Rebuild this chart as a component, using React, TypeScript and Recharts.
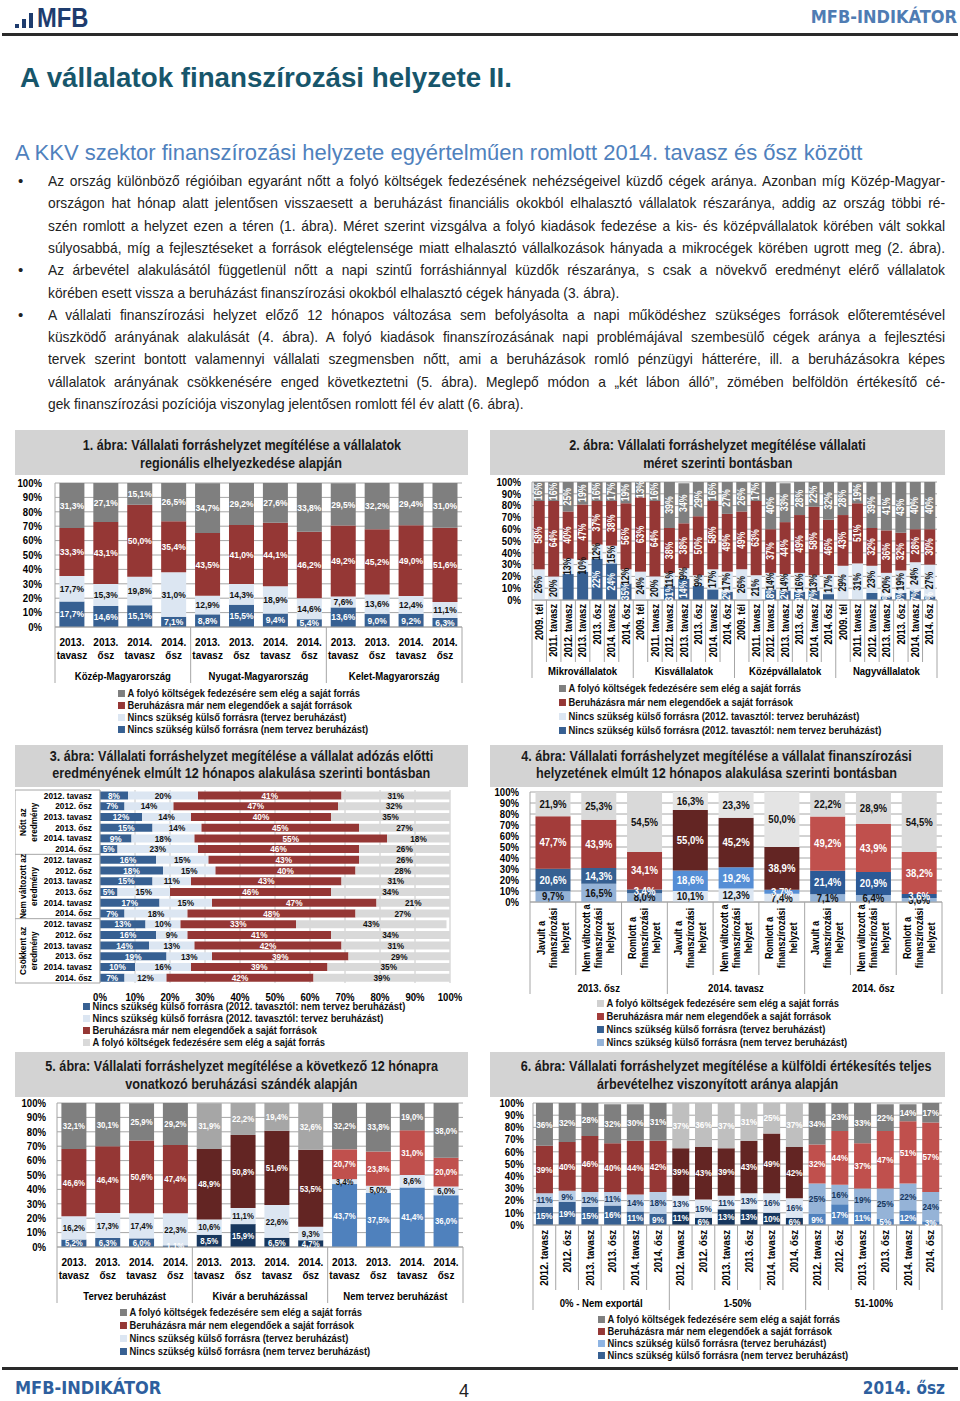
import React from "react";
import { BarChart, Bar, XAxis, YAxis, CartesianGrid, Cell, LabelList } from "recharts";

const SANS = "'Liberation Sans', Arial, sans-serif";
const HEAD = "'DejaVu Sans Condensed', 'DejaVu Sans', sans-serif";
const SX = 0.87;
const W = "#ffffff";
const K = "#111111";
const TICKS = [0, 10, 20, 30, 40, 50, 60, 70, 80, 90, 100];

// legend texts
const L_FOLYO = "A folyó költségek fedezésére sem elég a saját forrás";
const L_BERUH = "Beruházásra már nem elegendőek a saját források";
const L_TERV = "Nincs szükség külső forrásra (tervez beruházást)";
const L_NEMTERV = "Nincs szükség külső forrásra (nem tervez beruházást)";
const L_TERV12 = "Nincs szükség külső forrásra (2012. tavasztól: tervez beruházást)";
const L_NEMTERV12 = "Nincs szükség külső forrásra (2012. tavasztól: nem tervez beruházást)";

// 1. ábra
const FIG1_PERIODS = ["2013. tavasz", "2013. ősz", "2014. tavasz", "2014. ősz"];
const FIG1_REGIONS = ["Közép-Magyarország", "Nyugat-Magyarország", "Kelet-Magyarország"];
const FIG1_NEM = [17.7, 14.6, 15.1, 7.1, 8.8, 15.5, 9.4, 5.4, 13.6, 9.0, 9.2, 6.3];
const FIG1_TERV = [17.7, 15.3, 19.8, 31.0, 12.9, 14.3, 18.9, 14.6, 7.6, 13.6, 12.4, 11.1];
const FIG1_BERUH = [33.3, 43.1, 50.0, 35.4, 43.5, 41.0, 44.1, 46.2, 49.2, 45.2, 49.0, 51.6];
const FIG1_FOLYO = [31.3, 27.1, 15.1, 26.5, 34.7, 29.2, 27.6, 33.8, 29.5, 32.2, 29.4, 31.0];

// 2. ábra
const FIG2_PERIODS = ["2009. tél", "2011. tavasz", "2012. tavasz", "2013. tavasz", "2013. ősz", "2014. tavasz", "2014. ősz"];
const FIG2_SIZES = ["Mikrovállalatok", "Kisvállalatok", "Középvállalatok", "Nagyvállalatok"];
const FIG2_NEM = [0, 0, 22, 24, 35, 31, 14, 0, 0, 12, 18, 12, 9, 7, 0, 0, 9, 8, 7, 8, 5, 0, 0, 6, 3, 6, 8, 3];
const FIG2_TERV = [26, 20, 13, 10, 12, 15, 12, 24, 20, 11, 9, 9, 17, 17, 26, 21, 14, 14, 16, 13, 17, 29, 31, 23, 20, 19, 24, 27];
const FIG2_BERUH = [58, 64, 40, 47, 37, 38, 56, 63, 64, 38, 38, 50, 58, 49, 49, 63, 37, 44, 49, 58, 46, 43, 51, 32, 36, 32, 28, 30];
const FIG2_FOLYO = [16, 16, 25, 19, 16, 17, 19, 13, 16, 39, 34, 29, 16, 27, 26, 17, 40, 33, 28, 22, 32, 28, 19, 39, 41, 43, 40, 40];

// 3. ábra
const FIG3_PERIODS = ["2012. tavasz", "2012. ősz", "2013. tavasz", "2013. ősz", "2014. tavasz", "2014. ősz"];
const FIG3_GROUPS = ["Nőtt az eredmény", "Nem változott az eredmény", "Csökkent az eredmény"];
const FIG3_NEM = [8, 7, 12, 15, 9, 5, 16, 18, 15, 5, 17, 7, 13, 16, 14, 19, 10, 7];
const FIG3_TERV = [20, 14, 14, 14, 18, 23, 15, 15, 11, 15, 15, 18, 10, 9, 13, 13, 16, 12];
const FIG3_BERUH = [41, 47, 40, 45, 55, 46, 43, 40, 43, 46, 47, 48, 33, 41, 42, 39, 39, 42];
const FIG3_FOLYO = [31, 32, 35, 27, 18, 26, 26, 28, 31, 34, 21, 27, 43, 34, 31, 29, 35, 39];

// 4. ábra
const FIG4_STATES = [
  ["Javult a", "finanszírozási", "helyzet"],
  ["Nem változott a", "finanszírozási", "helyzet"],
  ["Romlott a", "finanszírozási", "helyzet"],
];
const FIG4_PERIODS = ["2013. ősz", "2014. tavasz", "2014. ősz"];
const FIG4_NEM = [9.7, 16.5, 8.0, 10.1, 12.3, 7.4, 7.1, 6.4, 3.6];
const FIG4_TERV = [20.6, 14.3, 3.4, 18.6, 19.2, 3.7, 21.4, 20.9, 3.6];
const FIG4_BERUH = [47.7, 43.9, 34.1, 55.0, 45.2, 38.9, 49.2, 43.9, 38.2];
const FIG4_FOLYO = [21.9, 25.3, 54.5, 16.3, 23.3, 50.0, 22.2, 28.9, 54.5];

// 5. ábra
const FIG5_PERIODS = ["2013. tavasz", "2013. ősz", "2014. tavasz", "2014. ősz"];
const FIG5_GROUPS = ["Tervez beruházást", "Kivár a beruházással", "Nem tervez beruházást"];
const FIG5_NEM = [5.2, 6.3, 6.0, 1.1, 8.5, 15.9, 6.5, 4.7, 43.7, 37.5, 41.4, 36.0];
const FIG5_TERV = [16.2, 17.3, 17.4, 22.3, 10.6, 11.1, 22.6, 9.3, 3.4, 5.0, 8.6, 6.0];
const FIG5_BERUH = [46.6, 46.4, 50.6, 47.4, 48.9, 50.8, 51.6, 53.5, 20.7, 23.8, 31.0, 20.0];
const FIG5_FOLYO = [32.1, 30.1, 25.9, 29.2, 31.9, 22.2, 19.4, 32.6, 32.2, 33.8, 19.0, 38.0];

// 6. ábra
const FIG6_PERIODS = ["2012. tavasz", "2012. ősz", "2013. tavasz", "2013. ősz", "2014. tavasz", "2014. ősz"];
const FIG6_GROUPS = ["0% - Nem exportál", "1-50%", "51-100%"];
const FIG6_NEM = [15, 19, 15, 16, 11, 9, 11, 6, 13, 13, 10, 6, 9, 17, 11, 5, 12, 3];
const FIG6_TERV = [11, 9, 12, 11, 14, 18, 13, 15, 11, 13, 16, 16, 25, 16, 19, 25, 22, 24];
const FIG6_BERUH = [39, 40, 46, 40, 44, 42, 39, 43, 39, 43, 49, 42, 32, 44, 37, 47, 51, 57];
const FIG6_FOLYO = [36, 32, 28, 32, 30, 31, 37, 36, 37, 31, 25, 37, 34, 23, 33, 22, 14, 17];

const TEXT_LINES: { t: string; bullet?: boolean; end?: boolean }[] = [
  { t: "Az ország különböző régióiban egyaránt nőtt a folyó költségek fedezésének nehézségeivel küzdő cégek aránya. Azonban míg Közép-Magyar-", bullet: true },
  { t: "országon hat hónap alatt jelentősen visszaesett a beruházást financiális okokból elhalasztó vállalatok részaránya, addig az ország többi ré-" },
  { t: "szén romlott a helyzet ezen a téren (1. ábra). Méret szerint vizsgálva a folyó kiadások fedezése a kis- és középvállalatok körében vált sokkal" },
  { t: "súlyosabbá, míg a fejlesztéseket a források elégtelensége miatt elhalasztó vállalkozások hányada a mikrocégek körében ugrott meg (2. ábra)." },
  { t: "Az árbevétel alakulásától függetlenül nőtt a napi szintű forráshiánnyal küzdők részaránya, s csak a növekvő eredményt elérő vállalatok", bullet: true },
  { t: "körében esett vissza a beruházást finanszírozási okokból elhalasztó cégek hányada (3. ábra).", end: true },
  { t: "A vállalati finanszírozási helyzet előző 12 hónapos változása sem befolyásolta a napi működéshez szükséges források előteremtésével", bullet: true },
  { t: "küszködő arányának alakulását (4. ábra). A folyó kiadások finanszírozásának napi problémájával szembesülő cégek aránya a fejlesztési" },
  { t: "tervek szerint bontott valamennyi vállalati szegmensben nőtt, ami a beruházások romló pénzügyi hátterére, ill. a beruházásokra képes" },
  { t: "vállalatok arányának csökkenésére enged következtetni (5. ábra). Meglepő módon a „két lábon álló”, zömében belföldön értékesítő cé-" },
  { t: "gek finanszírozási pozíciója viszonylag jelentősen romlott fél év alatt (6. ábra).", end: true },
];

type Series = { values: number[]; fills: string[]; inks: string[] };

const fmt = (v: number, dec: number) => v.toFixed(dec).replace(".", ",") + "%";

// condensed bold svg text (squeezed horizontally around its anchor)
function T(props: { x: number; y: number; size: number; anchor?: string; base?: string; fill?: string; rot?: boolean; children: React.ReactNode }) {
  const { x, y, size, anchor = "middle", base, fill = "#000", rot } = props;
  const tr = (rot ? `rotate(-90 ${x} ${y}) ` : "") + `matrix(${SX} 0 0 1 ${x * (1 - SX)} 0)`;
  return (
    <text x={x} y={y} transform={tr} fontSize={size} fontWeight="bold" fontFamily={SANS} textAnchor={anchor as any} dominantBaseline={base as any} fill={fill}>
      {props.children}
    </text>
  );
}

function labelFn(s: Series, size: number, dec: number, rot: boolean, fs: number) {
  return (p: any) => {
    const i = Number(p.index);
    const v = s.values[i];
    if (!v) return null;
    const cx = Number(p.x) + Number(p.width) / 2;
    const cy = Number(p.y) + Number(p.height) / 2;
    const g = Math.floor(i / size);
    return (
      <T x={cx} y={cy} size={fs} fill={s.inks[g]} base="central" rot={rot}>
        {fmt(v, dec)}
      </T>
    );
  };
}

const yTick = (p: any) => (
  <T x={Number(p.x)} y={Number(p.y)} size={11} anchor="end" base="central">
    {p.payload.value + "%"}
  </T>
);

type TickCfg = {
  lines: string[][];
  groups: string[];
  size: number;
  step: number;
  rot: boolean;
  font: number;
  offs: number[];
  rotY: number;
  anchor: "end" | "middle";
  groupDy: number;
  catSep: number;
  grpSep: number;
};

function makeTick(c: TickCfg) {
  return (p: any) => {
    const x = Number(p.x);
    const y = Number(p.y);
    const i = Number(p.index ?? p.payload?.index ?? 0);
    const n = c.lines.length;
    const k = i % c.size;
    const left = x - c.step / 2;
    const parts: React.ReactNode[] = [];
    (c.lines[i] || []).forEach((t, j) => {
      if (!c.rot) {
        parts.push(
          <T key={"t" + j} x={x} y={y + c.offs[j]} size={c.font}>
            {t}
          </T>
        );
      } else {
        parts.push(
          <T key={"t" + j} x={x + c.offs[j]} y={y + c.rotY} size={c.font} anchor={c.anchor} base="central" rot>
            {t}
          </T>
        );
      }
    });
    if (k === 0) {
      parts.push(<line key="gs" x1={left} x2={left} y1={y} y2={y + c.grpSep} stroke="#a6a6a6" />);
      parts.push(
        <T key="g" x={x + ((c.size - 1) * c.step) / 2} y={y + c.groupDy} size={11}>
          {c.groups[Math.floor(i / c.size)]}
        </T>
      );
    } else if (c.catSep > 0) {
      parts.push(<line key="cs" x1={left} x2={left} y1={y} y2={y + c.catSep} stroke="#a6a6a6" />);
    }
    if (i === n - 1) {
      parts.push(<line key="re" x1={x + c.step / 2} x2={x + c.step / 2} y1={y} y2={y + c.grpSep} stroke="#a6a6a6" />);
    }
    return <g>{parts}</g>;
  };
}

type ColProps = {
  w: number;
  h: number;
  top: number;
  yw: number;
  ym: number;
  right: number;
  axisH: number;
  n: number;
  size: number;
  series: Series[];
  dec: number;
  gap: string;
  rotLabels: boolean;
  labelSize: number;
  tick: any;
};

function Columns(pr: ColProps) {
  const data = Array.from({ length: pr.n }, (_, i) => {
    const row: any = { cat: "c" + i };
    pr.series.forEach((s, k) => (row["s" + k] = s.values[i]));
    return row;
  });
  return (
    <BarChart width={pr.w} height={pr.h} data={data} margin={{ top: pr.top, right: pr.right, left: 0, bottom: 0 }} barCategoryGap={pr.gap}>
      <CartesianGrid vertical={false} stroke="#a6a6a6" />
      <XAxis dataKey="cat" interval={0} tickSize={0} tickMargin={0} height={pr.axisH} axisLine={{ stroke: "#a6a6a6" }} tickLine={false} tick={pr.tick} />
      <YAxis width={pr.yw} domain={[0, 100]} ticks={TICKS} interval={0} allowDataOverflow tickSize={0} tickMargin={pr.ym} tick={yTick} axisLine={{ stroke: "#a6a6a6" }} tickLine={false} />
      {pr.series.map((s, k) => (
        <Bar key={k} dataKey={"s" + k} stackId="a" isAnimationActive={false}>
          {data.map((_, i) => (
            <Cell key={i} fill={s.fills[Math.floor(i / pr.size)]} />
          ))}
          <LabelList dataKey={"s" + k} content={labelFn(s, pr.size, pr.dec, pr.rotLabels, pr.labelSize)} />
        </Bar>
      ))}
    </BarChart>
  );
}

function TitleBar({ lines, w, h, top1, lh }: { lines: string[]; w: number; h: number; top1: number; lh: number }) {
  return (
    <div style={{ position: "absolute", left: 0, top: 0, width: w, height: h, background: "#d3d3d3" }}>
      {lines.map((t, i) => (
        <div key={i} style={{ position: "absolute", left: 0, width: w, top: top1 + i * lh - 9, height: 18, lineHeight: "18px", textAlign: "center", whiteSpace: "nowrap" }}>
          <span style={{ display: "inline-block", transform: `scaleX(${SX})`, fontFamily: SANS, fontWeight: "bold", fontSize: 14.5, color: "#1a1a1a" }}>{t}</span>
        </div>
      ))}
    </div>
  );
}

function Legend({ items, left, top, gap }: { items: { t: string; c: string }[]; left: number; top: number; gap: number }) {
  return (
    <>
      {items.map((it, i) => (
        <div
          key={i}
          style={{
            position: "absolute",
            left,
            top: top + i * gap - 7,
            height: 14,
            lineHeight: "14px",
            whiteSpace: "nowrap",
            fontFamily: SANS,
            fontWeight: "bold",
            fontSize: 10.8,
            color: "#111",
            transform: `scaleX(${SX})`,
            transformOrigin: "0 0",
          }}
        >
          <span style={{ display: "inline-block", width: 8, height: 7, background: it.c, marginRight: 3 }} />
          {it.t}
        </div>
      ))}
    </>
  );
}

function Box({ left, top, children }: { left: number; top: number; children: React.ReactNode }) {
  return <div style={{ position: "absolute", left, top, width: 455, height: 310 }}>{children}</div>;
}

const expand = (periods: string[], groups: string[]) => groups.flatMap(() => periods);

function Fig1() {
  const cats = expand(FIG1_PERIODS, FIG1_REGIONS);
  const n = cats.length;
  const step = (455 - 40 - 8) / n;
  const series: Series[] = [
    { values: FIG1_NEM, fills: ["#376092", "#376092", "#376092"], inks: [W, W, W] },
    { values: FIG1_TERV, fills: ["#dce6f2", "#dce6f2", "#dce6f2"], inks: [K, K, K] },
    { values: FIG1_BERUH, fills: ["#953735", "#953735", "#953735"], inks: [W, W, W] },
    { values: FIG1_FOLYO, fills: ["#7f7f7f", "#7f7f7f", "#7f7f7f"], inks: [W, W, W] },
  ];
  const tick = makeTick({ lines: cats.map((c) => c.split(" ")), groups: FIG1_REGIONS, size: 4, step, rot: false, font: 11.5, offs: [19, 32], rotY: 0, anchor: "end", groupDy: 53, catSep: 0, grpSep: 56 });
  return (
    <Box left={15} top={430}>
      <TitleBar lines={["1. ábra: Vállalati forráshelyzet megítélése a vállalatok", "regionális elhelyezkedése alapján"]} w={453} h={45} top1={15} lh={18} />
      <div style={{ position: "absolute", left: 0, top: 0 }}>
        <Columns w={455} h={257} top={53} yw={40} ym={13} right={8} axisH={60} n={n} size={4} series={series} dec={1} gap="13%" rotLabels={false} labelSize={9.8} tick={tick} />
      </div>
      <Legend left={103} top={263} gap={12} items={[{ t: L_FOLYO, c: "#7f7f7f" }, { t: L_BERUH, c: "#953735" }, { t: L_TERV, c: "#dce6f2" }, { t: L_NEMTERV, c: "#376092" }]} />
    </Box>
  );
}

function Fig2() {
  const cats = expand(FIG2_PERIODS, FIG2_SIZES);
  const n = cats.length;
  const step = (455 - 42 - 8) / n;
  const series: Series[] = [
    { values: FIG2_NEM, fills: ["#376092", "#376092", "#376092", "#376092"], inks: [W, W, W, W] },
    { values: FIG2_TERV, fills: ["#dce6f2", "#dce6f2", "#dce6f2", "#dce6f2"], inks: [K, K, K, K] },
    { values: FIG2_BERUH, fills: ["#953735", "#953735", "#953735", "#953735"], inks: [W, W, W, W] },
    { values: FIG2_FOLYO, fills: ["#7f7f7f", "#7f7f7f", "#7f7f7f", "#7f7f7f"], inks: [W, W, W, W] },
  ];
  const tick = makeTick({ lines: cats.map((c) => [c]), groups: FIG2_SIZES, size: 7, step, rot: true, font: 10.5, offs: [0], rotY: 4, anchor: "end", groupDy: 75, catSep: 62, grpSep: 78 });
  return (
    <Box left={490} top={430}>
      <TitleBar lines={["2. ábra: Vállalati forráshelyzet megítélése vállalati", "méret szerinti bontásban"]} w={455} h={45} top1={15} lh={18} />
      <div style={{ position: "absolute", left: 0, top: 0 }}>
        <Columns w={455} h={252} top={52} yw={42} ym={11} right={8} axisH={82} n={n} size={7} series={series} dec={0} gap="12%" rotLabels={true} labelSize={10} tick={tick} />
      </div>
      <Legend left={69} top={258} gap={14} items={[{ t: L_FOLYO, c: "#7f7f7f" }, { t: L_BERUH, c: "#953735" }, { t: L_TERV12, c: "#dce6f2" }, { t: L_NEMTERV12, c: "#376092" }]} />
    </Box>
  );
}

function Fig3() {
  const cats = expand(FIG3_PERIODS, FIG3_GROUPS);
  const n = cats.length;
  const plotH = 238 - 45;
  const step = plotH / n;
  const series: Series[] = [
    { values: FIG3_NEM, fills: ["#376092", "#376092", "#376092"], inks: [W, W, W] },
    { values: FIG3_TERV, fills: ["#dce6f2", "#dce6f2", "#dce6f2"], inks: [K, K, K] },
    { values: FIG3_BERUH, fills: ["#953735", "#953735", "#953735"], inks: [W, W, W] },
    { values: FIG3_FOLYO, fills: ["#d9d9d9", "#d9d9d9", "#d9d9d9"], inks: [K, K, K] },
  ];
  const data = cats.map((c, i) => {
    const row: any = { cat: "c" + i };
    series.forEach((s, k) => (row["s" + k] = s.values[i]));
    return row;
  });
  const tick = (p: any) => {
    const x = Number(p.x);
    const y = Number(p.y);
    const i = Number(p.index ?? 0);
    const k = i % 6;
    const parts: React.ReactNode[] = [
      <T key="t" x={x - 8} y={y} size={9.5} anchor="end" base="central">
        {cats[i]}
      </T>,
    ];
    if (k === 0) {
      const top = y - step / 2;
      const g = FIG3_GROUPS[Math.floor(i / 6)];
      const cut = g.lastIndexOf(" ");
      const gl = [g.slice(0, cut), g.slice(cut + 1)];
      const cy = top + 3 * step;
      parts.push(<line key="h" x1={x - 85} x2={x} y1={top} y2={top} stroke="#a6a6a6" />);
      parts.push(<line key="v" x1={x - 85} x2={x - 85} y1={top} y2={top + 6 * step} stroke="#a6a6a6" />);
      gl.forEach((t, j) => {
        parts.push(
          <T key={"g" + j} x={x - 77 + j * 11} y={cy} size={9.5} base="central" rot>
            {t}
          </T>
        );
      });
    }
    if (i === n - 1) parts.push(<line key="b" x1={x - 85} x2={x} y1={y + step / 2} y2={y + step / 2} stroke="#a6a6a6" />);
    return <g>{parts}</g>;
  };
  const xTick = (p: any) => (
    <T x={Number(p.x)} y={Number(p.y) + 6} size={11} base="central">
      {p.payload.value + "%"}
    </T>
  );
  return (
    <Box left={15} top={745}>
      <TitleBar lines={["3. ábra: Vállalati forráshelyzet megítélése a vállalat adózás előtti", "eredményének elmúlt 12 hónapos alakulása szerinti bontásban"]} w={453} h={42} top1={11} lh={17} />
      <div style={{ position: "absolute", left: 0, top: 0 }}>
        <BarChart layout="vertical" width={455} height={260} data={data} margin={{ top: 45, right: 20, left: 0, bottom: 0 }} barCategoryGap="14%">
          <CartesianGrid horizontal={false} stroke="#c8c8c8" />
          <XAxis type="number" domain={[0, 100]} ticks={TICKS} interval={0} allowDataOverflow height={22} axisLine={false} tickLine={false} tickSize={0} tickMargin={8} tick={xTick} />
          <YAxis type="category" dataKey="cat" width={85} interval={0} tickSize={0} tickMargin={0} axisLine={{ stroke: "#a6a6a6" }} tickLine={false} tick={tick} />
          {series.map((s, k) => (
            <Bar key={k} dataKey={"s" + k} stackId="a" fill={s.fills[0]} isAnimationActive={false}>
              <LabelList dataKey={"s" + k} content={labelFn(s, 6, 0, false, 9.5)} />
            </Bar>
          ))}
        </BarChart>
      </div>
      <Legend left={68} top={261} gap={12} items={[{ t: L_NEMTERV12, c: "#376092" }, { t: L_TERV12, c: "#dce6f2" }, { t: L_BERUH, c: "#953735" }, { t: L_FOLYO, c: "#d9d9d9" }]} />
    </Box>
  );
}

function Fig4() {
  const lines = FIG4_PERIODS.flatMap(() => FIG4_STATES);
  const n = lines.length;
  const step = (455 - 40 - 3) / n;
  const series: Series[] = [
    { values: FIG4_NEM, fills: ["#95b3d7", "#dce6f2", "#95b3d7"], inks: [K, K, K] },
    { values: FIG4_TERV, fills: ["#366092", "#558ed5", "#2c5a96"], inks: [W, W, W] },
    { values: FIG4_BERUH, fills: ["#a33c3a", "#632523", "#c0504d"], inks: [W, W, W] },
    { values: FIG4_FOLYO, fills: ["#d9d9d9", "#e4e4e4", "#d9d9d9"], inks: [K, K, K] },
  ];
  const tick = makeTick({ lines, groups: FIG4_PERIODS, size: 3, step, rot: true, font: 10.5, offs: [-12, 0, 12], rotY: 36, anchor: "middle", groupDy: 90, catSep: 73, grpSep: 92 });
  return (
    <Box left={490} top={745}>
      <TitleBar lines={["4. ábra: Vállalati forráshelyzet megítélése a vállalat finanszírozási", "helyzetének elmúlt 12 hónapos alakulása szerinti bontásban"]} w={453} h={42} top1={11} lh={17} />
      <div style={{ position: "absolute", left: 0, top: 0 }}>
        <Columns w={455} h={252} top={47} yw={40} ym={11} right={3} axisH={95} n={n} size={3} series={series} dec={1} gap="12%" rotLabels={false} labelSize={11} tick={tick} />
      </div>
      <Legend left={107} top={258} gap={13} items={[{ t: L_FOLYO, c: "#d0d0d0" }, { t: L_BERUH, c: "#a33c3a" }, { t: L_TERV, c: "#366092" }, { t: L_NEMTERV, c: "#95b3d7" }]} />
    </Box>
  );
}

function Fig5() {
  const cats = expand(FIG5_PERIODS, FIG5_GROUPS);
  const n = cats.length;
  const step = (455 - 42 - 7) / n;
  const series: Series[] = [
    { values: FIG5_NEM, fills: ["#376092", "#17375e", "#4f81bd"], inks: [W, W, W] },
    { values: FIG5_TERV, fills: ["#dce6f2", "#dce6f2", "#dce6f2"], inks: [K, K, K] },
    { values: FIG5_BERUH, fills: ["#953735", "#632523", "#c0504d"], inks: [W, W, W] },
    { values: FIG5_FOLYO, fills: ["#7f7f7f", "#a6a6a6", "#7f7f7f"], inks: [W, W, W] },
  ];
  const tick = makeTick({ lines: cats.map((c) => c.split(" ")), groups: FIG5_GROUPS, size: 4, step, rot: false, font: 11.5, offs: [19, 32], rotY: 0, anchor: "end", groupDy: 53, catSep: 0, grpSep: 56 });
  return (
    <Box left={15} top={1052}>
      <TitleBar lines={["5. ábra: Vállalati forráshelyzet megítélése a következő 12 hónapra", "vonatkozó beruházási szándék alapján"]} w={453} h={45} top1={14} lh={18} />
      <div style={{ position: "absolute", left: 0, top: 0 }}>
        <Columns w={455} h={255} top={51} yw={42} ym={11} right={7} axisH={60} n={n} size={4} series={series} dec={1} gap="13%" rotLabels={false} labelSize={9} tick={tick} />
      </div>
      <Legend left={105} top={260} gap={13} items={[{ t: L_FOLYO, c: "#7f7f7f" }, { t: L_BERUH, c: "#953735" }, { t: L_TERV, c: "#dce6f2" }, { t: L_NEMTERV, c: "#376092" }]} />
    </Box>
  );
}

function Fig6() {
  const cats = expand(FIG6_PERIODS, FIG6_GROUPS);
  const n = cats.length;
  const step = (455 - 43 - 3) / n;
  const series: Series[] = [
    { values: FIG6_NEM, fills: ["#376092", "#17375e", "#4f81bd"], inks: [W, W, W] },
    { values: FIG6_TERV, fills: ["#b9cde5", "#dce6f2", "#95b3d7"], inks: ["#17375e", "#17375e", "#17375e"] },
    { values: FIG6_BERUH, fills: ["#953735", "#632523", "#c0504d"], inks: [W, W, W] },
    { values: FIG6_FOLYO, fills: ["#7f7f7f", "#bfbfbf", "#7f7f7f"], inks: [W, W, W] },
  ];
  const tick = makeTick({ lines: cats.map((c) => [c]), groups: FIG6_GROUPS, size: 6, step, rot: true, font: 11, offs: [0], rotY: 5, anchor: "end", groupDy: 82, catSep: 65, grpSep: 85 });
  return (
    <Box left={490} top={1052}>
      <TitleBar lines={["6. ábra: Vállalati forráshelyzet megítélése a külföldi értékesítés teljes", "árbevételhez viszonyított aránya alapján"]} w={455} h={45} top1={14} lh={18} />
      <div style={{ position: "absolute", left: 0, top: 0 }}>
        <Columns w={455} h={261} top={51} yw={43} ym={9} right={3} axisH={88} n={n} size={6} series={series} dec={0} gap="13%" rotLabels={false} labelSize={9.5} tick={tick} />
      </div>
      <Legend left={108} top={267} gap={12} items={[{ t: L_FOLYO, c: "#7f7f7f" }, { t: L_BERUH, c: "#953735" }, { t: L_TERV, c: "#8eb4e3" }, { t: L_NEMTERV, c: "#376092" }]} />
    </Box>
  );
}

const BODY_SX = 0.95;

export default function App() {
  return (
    <div style={{ position: "absolute", left: 0, top: 0, width: 960, height: 1401, background: "#fff", overflow: "hidden" }}>
      {/* header */}
      <div style={{ position: "absolute", left: 15, top: 24, width: 4, height: 4, background: "#1e3c6e" }} />
      <div style={{ position: "absolute", left: 22, top: 19, width: 4, height: 9, background: "#1e3c6e" }} />
      <div style={{ position: "absolute", left: 29, top: 13, width: 4, height: 15, background: "#1e3c6e" }} />
      <div style={{ position: "absolute", left: 37, top: 3, height: 30, lineHeight: "30px", fontFamily: SANS, fontWeight: "bold", fontSize: 27, color: "#1e3c6e", transform: "scaleX(0.88)", transformOrigin: "0 0" }}>MFB</div>
      <div style={{ position: "absolute", right: 3, top: 7, height: 20, lineHeight: "20px", fontFamily: HEAD, fontWeight: "bold", fontSize: 18, color: "#4f7cb3" }}>MFB-INDIKÁTOR</div>
      <div style={{ position: "absolute", left: 2, top: 33, width: 956, height: 3, background: "#2a2a2a" }} />
      <div style={{ position: "absolute", left: 20, top: 60, height: 36, lineHeight: "36px", fontFamily: SANS, fontWeight: "bold", fontSize: 28, color: "#17566b", whiteSpace: "nowrap", transform: "scaleX(0.99)", transformOrigin: "0 0" }}>
        A vállalatok finanszírozási helyzete II.
      </div>
      <div style={{ position: "absolute", left: 15, top: 139, height: 28, lineHeight: "28px", fontFamily: SANS, fontSize: 22, color: "#4f81bd", whiteSpace: "nowrap" }}>
        A KKV szektor finanszírozási helyzete egyértelműen romlott 2014. tavasz és ősz között
      </div>
      {TEXT_LINES.map((l, i) => (
        <React.Fragment key={i}>
          {l.bullet && <div style={{ position: "absolute", left: 18, top: 181 + i * 22.3 - 10, height: 20, lineHeight: "20px", fontSize: 15, fontFamily: SANS, color: "#222" }}>•</div>}
          <div
            style={{
              position: "absolute",
              left: 48,
              width: 897 / BODY_SX,
              top: 181 + i * 22.3 - 10,
              height: 20,
              lineHeight: "20px",
              fontSize: 14.5,
              fontFamily: SANS,
              color: "#222",
              textAlign: l.end ? "left" : "justify",
              textAlignLast: l.end ? "left" : "justify",
              transform: `scaleX(${BODY_SX})`,
              transformOrigin: "0 0",
            }}
          >
            {l.t}
          </div>
        </React.Fragment>
      ))}
      <Fig1 />
      <Fig2 />
      <Fig3 />
      <Fig4 />
      <Fig5 />
      <Fig6 />
      {/* footer */}
      <div style={{ position: "absolute", left: 2, top: 1367, width: 956, height: 3, background: "#2a2a2a" }} />
      <div style={{ position: "absolute", left: 15, top: 1378, height: 20, lineHeight: "20px", fontFamily: HEAD, fontWeight: "bold", fontSize: 18, color: "#2e5f9e" }}>MFB-INDIKÁTOR</div>
      <div style={{ position: "absolute", left: 459, top: 1381, height: 20, lineHeight: "20px", fontFamily: SANS, fontSize: 18, color: "#222" }}>4</div>
      <div style={{ position: "absolute", right: 15, top: 1378, height: 20, lineHeight: "20px", fontFamily: HEAD, fontWeight: "bold", fontSize: 17, color: "#2e5f9e" }}>2014. ősz</div>
    </div>
  );
}
